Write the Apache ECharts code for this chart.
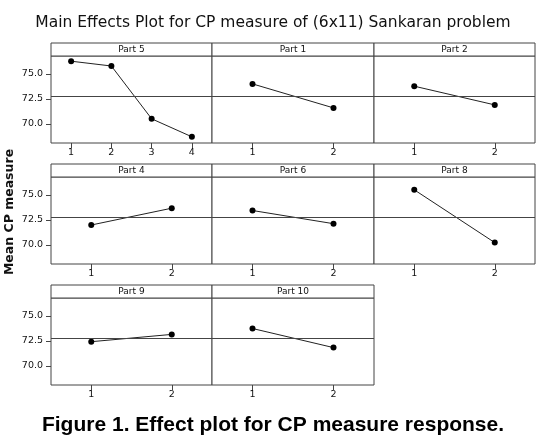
<!DOCTYPE html>
<html>
<head>
<meta charset="utf-8">
<script src="https://cdn.jsdelivr.net/npm/echarts@6/dist/echarts.min.js"></script>
<style>
  html, body { margin: 0; padding: 0; background: #fff; }
  #main { width: 546px; height: 436px; }
</style>
</head>
<body>
<div id="main"></div>
<script>
// factor names, in panel order (row by row)
var panelNames = ['Part 5', 'Part 1', 'Part 2', 'Part 4', 'Part 6', 'Part 8', 'Part 9', 'Part 10'];

// factor levels
var levels4 = ['1', '2', '3', '4'];
var levels2 = ['1', '2'];

// mean CP measure at each level
var part5 = [76.28, 75.80, 70.52, 68.72];
var part1 = [74.01, 71.61];
var part2 = [73.78, 71.91];
var part4 = [72.00, 73.68];
var part6 = [73.45, 72.13];
var part8 = [75.52, 70.24];
var part9 = [72.43, 73.16];
var part10 = [73.75, 71.84];

var yTicks = [70, 72.5, 75];

var panelData = [part5, part1, part2, part4, part6, part8, part9, part10];
var panelLevels = [levels4, levels2, levels2, levels2, levels2, levels2, levels2, levels2];

// grand mean = average of the panel means
var grandMean = panelData.map(function (d) {
    return d.reduce(function (a, b) { return a + b; }, 0) / d.length;
}).reduce(function (a, b) { return a + b; }, 0) / panelData.length;

var myChart = echarts.init(document.getElementById('main'));

var colLeft = [51, 212, 374];
var colWidth = [161, 162, 161];
var rowTop = [56, 177, 298];
var rowHeight = [87, 87, 87];
var stripH = 13;
var frameColor = '#444';
var fontFamily = 'DejaVu Sans';

var grids = [], xAxes = [], yAxes = [], series = [], graphics = [];

for (var i = 0; i < panelNames.length; i++) {
    var r = Math.floor(i / 3), c = i % 3;
    grids.push({
        left: colLeft[c], top: rowTop[r], width: colWidth[c], height: rowHeight[r],
        show: true, borderColor: frameColor, borderWidth: 1, backgroundColor: '#fff'
    });
    xAxes.push({
        type: 'category', gridIndex: i, data: panelLevels[i], boundaryGap: true,
        axisLine: { show: false },
        axisTick: { show: true, alignWithLabel: true, length: 5, lineStyle: { color: frameColor } },
        axisLabel: { color: '#111', fontSize: 9.5, fontFamily: fontFamily, margin: 5 },
        splitLine: { show: false }
    });
    yAxes.push({
        type: 'value', gridIndex: i, min: 68.1, max: 76.8,
        axisLine: { show: false },
        axisTick: { show: c === 0, length: 5, customValues: yTicks, lineStyle: { color: frameColor } },
        axisLabel: {
            show: c === 0, customValues: yTicks, color: '#111', fontSize: 9.5, fontFamily: fontFamily,
            margin: 8, formatter: function (v) { return v.toFixed(1); }
        },
        splitLine: { show: false }
    });
    series.push({
        type: 'line', xAxisIndex: i, yAxisIndex: i, data: panelData[i],
        symbol: 'circle', symbolSize: 6, animation: false,
        lineStyle: { color: '#222', width: 1 },
        itemStyle: { color: '#000' },
        markLine: {
            silent: true, symbol: 'none', label: { show: false },
            lineStyle: { color: frameColor, width: 1, type: 'solid' },
            data: [{ yAxis: grandMean }]
        }
    });
    graphics.push({
        type: 'rect',
        shape: { x: colLeft[c], y: rowTop[r] - stripH, width: colWidth[c], height: stripH },
        style: { fill: '#fff', stroke: frameColor, lineWidth: 1 },
        textContent: { style: { text: panelNames[i], fontSize: 9, fontFamily: fontFamily, fill: '#111' } },
        textConfig: { position: 'inside' }
    });
}

graphics.push({
    type: 'text', rotation: Math.PI / 2,
    x: 10, y: 212,
    style: {
        text: 'Mean CP measure', fontSize: 12.5, fontWeight: 'bold', fontFamily: fontFamily,
        fill: '#111', textAlign: 'center', textVerticalAlign: 'middle'
    }
});

option = {
    backgroundColor: '#fff',
    title: [
        {
            text: 'Main Effects Plot for CP measure of (6x11) Sankaran problem',
            left: 'center', top: 10,
            textStyle: { fontFamily: fontFamily, fontSize: 15.5, fontWeight: 'normal', color: '#111' }
        },
        {
            text: 'Figure 1. Effect plot for CP measure response.',
            left: 'center', top: 410,
            textStyle: { fontFamily: 'Liberation Sans', fontSize: 21, fontWeight: 'bold', color: '#000' }
        }
    ],
    grid: grids,
    xAxis: xAxes,
    yAxis: yAxes,
    series: series,
    graphic: graphics
};

myChart.setOption(option);
</script>
</body>
</html>
